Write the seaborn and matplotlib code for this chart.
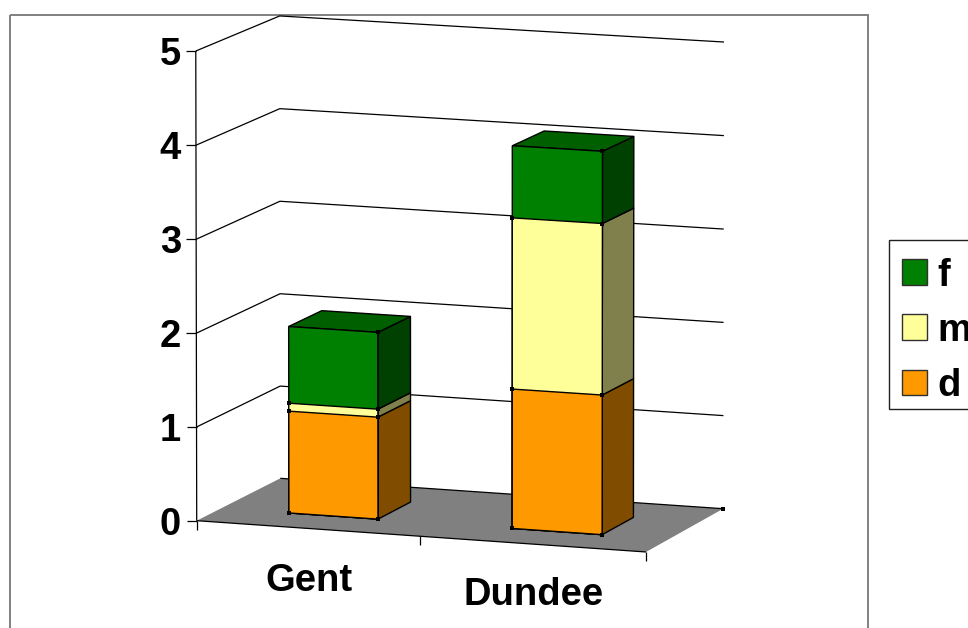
import numpy as np
import matplotlib
matplotlib.use("Agg")
import matplotlib.pyplot as plt
from matplotlib.patches import Patch, Polygon, Rectangle
from matplotlib.transforms import Transform
import seaborn as sns

# Stacked values per site
sites = ["Gent", "Dundee"]
d_values = [1.09, 1.485]
m_values = [0.085, 1.82]
f_values = [0.82, 0.765]
y_ticks = [0, 1, 2, 3, 4, 5]
series_names = ["f", "m", "d"]

# Front, side and top shades for each series
front_colors = {"d": "#FF9900", "m": "#FFFF99", "f": "#008000"}
side_colors = {"d": "#804D00", "m": "#80804D", "f": "#004000"}
top_color = "#006000"
floor_color = "#808080"
border_color = "#808080"

BAR_WIDTH = 0.4
BAR_CENTER_OFFSET = 0.505
DEPTH_FRONT, DEPTH_BACK = 0.29, 0.69
X_MAX, Y_MAX = 2.0, 5.0
FONT_SIZE = 27.5

# Camera fitted on the corners of the plot box: (x, value, depth) -> canvas pixel
box_world = np.array([[0, 0, 0], [0, 5, 0], [0, 0, 1], [0, 5, 1],
                      [2, 0, 1], [2, 5, 1], [2, 0, 0]], float)
box_canvas = np.array([[197, 521], [195.5, 51], [280, 478], [280, 16],
                       [723.3, 509], [724, 42], [646, 551.7]], float)


def fit_camera(world, canvas):
    rows, rhs = [], []
    for (x, y, z), (u, v) in zip(world, canvas):
        rows.append([x, y, z, 1, 0, 0, 0, 0, -u * x, -u * y, -u * z])
        rows.append([0, 0, 0, 0, x, y, z, 1, -v * x, -v * y, -v * z])
        rhs += [u, v]
    sol = np.linalg.lstsq(np.array(rows), np.array(rhs), rcond=None)[0]
    return np.append(sol, 1.0).reshape(3, 4)


CAMERA = fit_camera(box_world, box_canvas)


def project(x, y, z):
    p = CAMERA @ np.array([x, y, z, 1.0])
    return p[0] / p[2], p[1] / p[2]


class FrontFace(Transform):
    """Maps seaborn's categorical bar coordinates onto the front plane of the bars."""
    input_dims = output_dims = 2

    def transform_non_affine(self, values):
        values = np.asarray(values, float)
        return np.array([project(x + BAR_CENTER_OFFSET, y, DEPTH_FRONT) for x, y in values])


sns.set_theme(style="white")
plt.rcParams["font.family"] = ["Liberation Sans", "DejaVu Sans"]
plt.rcParams["text.color"] = "black"

fig = plt.figure(figsize=(9.68, 6.28), dpi=100)
ax = fig.add_axes([0, 0, 1, 1])

# Cumulative tops, painted tallest first so each series overlays the one above it
d_arr, m_arr, f_arr = map(np.array, (d_values, m_values, f_values))
stack_tops = {"f": d_arr + m_arr + f_arr, "m": d_arr + m_arr, "d": d_arr}
stack_bottoms = {"f": d_arr + m_arr, "m": d_arr, "d": np.zeros(2)}

for name in series_names:
    before = len(ax.patches)
    sns.barplot(x=sites, y=stack_tops[name], color=front_colors[name], saturation=1,
                width=BAR_WIDTH, edgecolor="black", linewidth=1.0, ax=ax, errorbar=None)
    for patch in ax.patches[before:]:
        patch.set_transform(FrontFace() + ax.transData)
        patch.set_zorder(5)
        patch.set_clip_on(False)

ax.set_xlim(0, 968)
ax.set_ylim(628, 0)
ax.set_axis_off()

line_kw = dict(color="black", lw=0.9, solid_capstyle="butt")

# Chart frame runs past the lower canvas edge
ax.add_patch(Rectangle((9.7, 14.7), 858, 700, fill=False, ec=border_color, lw=1.4, zorder=1))

# Floor
floor = [project(0, 0, 0), project(0, 0, 1), project(X_MAX, 0, 1), project(X_MAX, 0, 0)]
ax.add_patch(Polygon(floor, closed=True, fc=floor_color, ec="none", zorder=2))
for a, b in [(floor[0], floor[3]), (floor[1], floor[2])]:
    ax.plot([a[0], b[0]], [a[1], b[1]], zorder=2.5, **line_kw)

# Wall gridlines, value axis and ticks
for tick in y_ticks:
    a, b, c = project(0, tick, 0), project(0, tick, 1), project(X_MAX, tick, 1)
    if tick > 0:
        ax.plot([a[0], b[0], c[0]], [a[1], b[1], c[1]], zorder=2.2, **line_kw)
    ax.plot([a[0] - 10, a[0]], [a[1], a[1]], zorder=2.2, **line_kw)
    ax.text(181, a[1], str(tick), ha="right", va="center_baseline", fontsize=FONT_SIZE,
            fontweight="bold", color="black")
ax.plot(*zip(project(0, 0, 0), project(0, Y_MAX, 0)), zorder=2.2, **line_kw)
for xt in range(3):
    u, v = project(xt, 0, 0)
    ax.plot([u, u], [v, v + 9], zorder=2.2, **line_kw)

# Side and top faces, plus the small corner handles
handles_x, handles_y = [], []
for i in range(len(sites)):
    x0 = i + BAR_CENTER_OFFSET - BAR_WIDTH / 2
    x1 = i + BAR_CENTER_OFFSET + BAR_WIDTH / 2
    for name in ["d", "m", "f"]:
        lo, hi = stack_bottoms[name][i], stack_tops[name][i]
        side = [project(x1, lo, DEPTH_FRONT), project(x1, lo, DEPTH_BACK),
                project(x1, hi, DEPTH_BACK), project(x1, hi, DEPTH_FRONT)]
        ax.add_patch(Polygon(side, closed=True, fc=side_colors[name], ec="black",
                             lw=1.0, zorder=4, joinstyle="round"))
        for px in (project(x1, lo, DEPTH_FRONT), project(x0, lo, DEPTH_FRONT)):
            handles_x.append(px[0])
            handles_y.append(px[1])
    peak = stack_tops["f"][i]
    top = [project(x0, peak, DEPTH_FRONT), project(x0, peak, DEPTH_BACK),
           project(x1, peak, DEPTH_BACK), project(x1, peak, DEPTH_FRONT)]
    ax.add_patch(Polygon(top, closed=True, fc=top_color, ec="black", lw=1.0, zorder=4))
    px = project(x1, peak, DEPTH_FRONT)
    handles_x.append(px[0])
    handles_y.append(px[1])
corner = project(X_MAX, 0, 1)
handles_x.append(corner[0])
handles_y.append(corner[1])
ax.plot(handles_x, handles_y, ls="none", marker="s", ms=2.6, color="black", mew=0, zorder=6)

# Category labels
ax.text(309, 577, sites[0], ha="center", va="center_baseline", fontsize=FONT_SIZE,
        fontweight="bold", color="black")
ax.text(533.5, 591, sites[1], ha="center", va="center_baseline", fontsize=FONT_SIZE,
        fontweight="bold", color="black")

# Legend frame runs off the right edge of the canvas
ax.add_patch(Rectangle((889.3, 239.7), 200, 169.3, fc="white", ec="#202020", lw=1.0, zorder=6.5))
legend_handles = [Patch(fc=front_colors[n], ec="#303030", lw=1.0, label=n) for n in series_names]
leg = ax.legend(handles=legend_handles, loc="upper left", bbox_to_anchor=(889.3, 245),
                bbox_transform=ax.transData, prop={"weight": "bold", "size": FONT_SIZE},
                frameon=False, labelcolor="black",
                handlelength=0.66, handleheight=0.66, handletextpad=0.26, borderpad=0.33,
                labelspacing=0.5, borderaxespad=0)
leg.set_zorder(7)

fig.savefig("out.png", dpi=100, facecolor="white")
